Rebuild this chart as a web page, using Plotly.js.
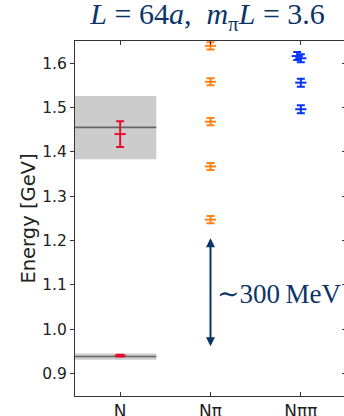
<!DOCTYPE html>
<html>
<head>
<meta charset="utf-8">
<script src="https://cdn.plot.ly/plotly-3.0.1.min.js"></script>
<style>
  html, body { margin: 0; padding: 0; background: #fff; overflow: hidden; }
  #chart { width: 350px; height: 416px; }
</style>
</head>
<body>
<div id="chart"></div>
<script>
// Channel categories on the x axis
const channels = ['N', 'Nπ', 'Nππ'];
const channelPos = [0, 1, 2];

// Single-nucleon levels (energies in GeV)
const nX = [0, 0];
const nE = [0.940, 1.440];
const nErr = [0.002, 0.029];

// N pi levels
const npiX = [1, 1, 1, 1, 1];
const npiE = [1.639, 1.558, 1.468, 1.367, 1.247];
const npiErr = [0.008, 0.008, 0.008, 0.008, 0.008];

// N pi pi levels
const npipiX = [1.96, 2, 2, 2];
const npipiE = [1.616, 1.611, 1.556, 1.496];
const npipiErr = [0.009, 0.009, 0.009, 0.009];

// Reference bands for the nucleon ground state and the Roper (GeV)
const bandCenter = [0.938, 1.455];
const bandLow = [0.931, 1.383];
const bandHigh = [0.945, 1.526];
const bandXStart = -0.5;
const bandXEnd = 0.4;

// Gap marker between the nucleon and the lowest N pi level
const gapX = 1;
const gapLow = 0.958;
const gapHigh = 1.205;
const gapLabel = '∼300\u2009MeV';

const navy = '#0c3468';
const sp = '\u00A0';

function levelTrace(x, y, err, color) {
  return {
    x: x, y: y, type: 'scatter', mode: 'markers',
    marker: { symbol: 'line-ew-open', size: 8, color: color, line: { color: color, width: 2 } },
    error_y: { type: 'data', array: err, visible: true, color: color, thickness: 2, width: 4 },
    hoverinfo: 'skip', showlegend: false
  };
}

const traces = [
  levelTrace(nX, nE, nErr, '#e60f2d'),
  levelTrace(npiX, npiE, npiErr, '#ff8416'),
  levelTrace(npipiX, npipiE, npipiErr, '#0534ff'),
  // carries the right-hand tick axis
  { x: [0], y: [1.0], yaxis: 'y2', type: 'scatter', mode: 'markers',
    marker: { opacity: 0 }, hoverinfo: 'skip', showlegend: false }
];

const shapes = [];
for (let i = 0; i < bandCenter.length; i++) {
  shapes.push({
    type: 'rect', xref: 'x', yref: 'y', layer: 'below',
    x0: bandXStart, x1: bandXEnd, y0: bandLow[i], y1: bandHigh[i],
    fillcolor: '#cccccc', line: { width: 0 }
  });
  shapes.push({
    type: 'line', xref: 'x', yref: 'y', layer: 'below',
    x0: bandXStart, x1: bandXEnd, y0: bandCenter[i], y1: bandCenter[i],
    line: { color: '#666666', width: 1.6 }
  });
}

const yRange = [0.849, 1.650];
const tickVals = [0.9, 1.0, 1.1, 1.2, 1.3, 1.4, 1.5, 1.6];
const tickText = ['0.9', '1.0', '1.1', '1.2', '1.3', '1.4', '1.5', '1.6'];
const axisFont = { family: 'DejaVu Sans, sans-serif', size: 15.5, color: '#222' };

const layout = {
  width: 350, height: 416,
  margin: { l: 75, r: 4, t: 41, b: 20 },
  paper_bgcolor: '#fff', plot_bgcolor: '#fff',
  title: {
    text: '<i>L</i>' + sp + '=' + sp + '64<i>a</i>,' + sp + sp + '<i>m</i><sub>π</sub><i>L</i>' + sp + '=' + sp + '3.6',
    font: { family: 'Liberation Serif, DejaVu Serif, serif', size: 30, color: navy },
    xref: 'container', yref: 'container',
    x: 204 / 344, xanchor: 'center', y: 0.992, yanchor: 'top'
  },
  xaxis: {
    range: [-0.5, 2.5], tickvals: channelPos, ticktext: channels,
    ticks: 'inside', ticklen: 4, tickcolor: '#333', tickwidth: 1,
    showline: true, linecolor: '#333', linewidth: 1, mirror: 'ticks',
    showgrid: false, zeroline: false,
    tickfont: { family: 'DejaVu Sans, sans-serif', size: 17, color: '#222' }
  },
  yaxis: {
    range: yRange, tickvals: tickVals, ticktext: tickText,
    ticks: 'outside', ticklen: 4, tickcolor: '#333', tickwidth: 1,
    showline: true, linecolor: '#333', linewidth: 1, mirror: true,
    showgrid: false, zeroline: false, tickfont: axisFont,
    title: { text: 'Energy [GeV]', font: { family: 'DejaVu Sans, sans-serif', size: 19.5, color: '#222' }, standoff: 1 }
  },
  yaxis2: {
    range: yRange, overlaying: 'y', side: 'right', tickvals: tickVals,
    ticks: 'inside', ticklen: 4, tickcolor: '#333', tickwidth: 1,
    showticklabels: false, showgrid: false, zeroline: false, showline: false
  },
  shapes: shapes,
  annotations: [
    {
      x: gapX, y: gapHigh, ax: gapX, ay: gapLow,
      xref: 'x', yref: 'y', axref: 'x', ayref: 'y',
      text: '', showarrow: true, arrowside: 'end+start',
      arrowhead: 2, arrowsize: 0.9, arrowwidth: 2, arrowcolor: navy
    },
    {
      x: 1.05, y: 1.08, xref: 'x', yref: 'y',
      text: gapLabel, showarrow: false, xanchor: 'left', yanchor: 'middle',
      font: { family: 'Liberation Serif, DejaVu Serif, serif', size: 27, color: navy }
    }
  ]
};

Plotly.newPlot('chart', traces, layout, { displayModeBar: false, staticPlot: true });
</script>
</body>
</html>
